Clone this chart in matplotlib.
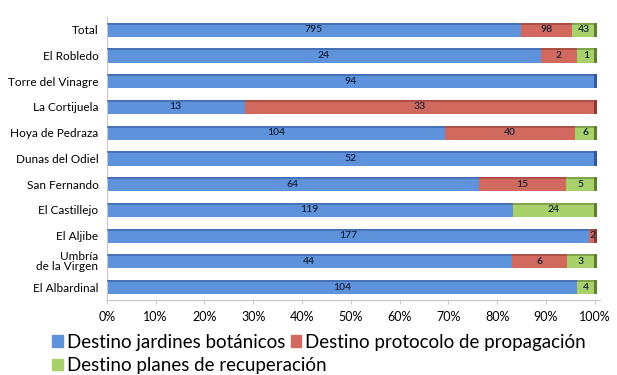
import matplotlib.pyplot as plt
import numpy as np

plt.rcParams['font.family'] = ['Lato', 'DejaVu Sans']

# categories top to bottom
sites = ['Total', 'El Robledo', 'Torre del Vinagre', 'La Cortijuela', 'Hoya de Pedraza',
         'Dunas del Odiel', 'San Fernando', 'El Castillejo', 'El Aljibe',
         'Umbría\nde la Virgen', 'El Albardinal']
jardines = [795, 24, 94, 13, 104, 52, 64, 119, 177, 44, 104]
protocolo = [98, 2, 0, 33, 40, 0, 15, 0, 2, 6, 0]
planes = [43, 1, 0, 0, 6, 0, 5, 24, 0, 3, 4]
series_names = ['Destino jardines botánicos', 'Destino protocolo de propagación',
                'Destino planes de recuperación']
xticks = np.arange(0, 101, 10)

colors = ['#5e92db', '#d2695f', '#a8d16c']
dark = ['#34599a', '#8e3a34', '#5f7f30']

data = np.array([jardines, protocolo, planes], dtype=float)
pct = data / data.sum(axis=0) * 100

fig = plt.figure(figsize=(6.17, 3.75), dpi=100)
ax = fig.add_axes([0.173, 0.2, 0.799, 0.755])

y = np.arange(len(sites))
left = np.zeros(len(sites))
h = 0.55
for i in range(3):
    ax.barh(y, pct[i], left=left, height=h, color=colors[i], edgecolor='none', zorder=2)
    # darker top face
    ax.barh(y - h / 2 + 0.04, pct[i], left=left, height=0.08, color=dark[i],
            alpha=0.55, edgecolor='none', zorder=3)
    for j in range(len(sites)):
        if data[i, j] > 0:
            xc = left[j] + pct[i, j] / 2
            if pct[i, j] < 2:
                xc = 99.6
            ax.text(xc, y[j], '%d' % data[i, j], ha='center', va='center',
                    fontsize=7.5, color='#16223a', fontweight='semibold', zorder=5)
    left += pct[i]

# end caps (3d side)
for j in range(len(sites)):
    last = max(i for i in range(3) if data[i, j] > 0)
    ax.barh(y[j], 0.6, left=99.9, height=h, color=dark[last], edgecolor='none', zorder=4)

ax.set_ylim(len(sites) - 0.5, -0.5)
ax.set_xlim(0, 101)
ax.set_yticks(y)
ax.set_yticklabels(sites, fontsize=8.5, linespacing=0.85)
ax.set_xticks(xticks)
ax.set_xticklabels(['%d%%' % v for v in xticks], fontsize=9)
for s in ['top', 'right']:
    ax.spines[s].set_visible(False)
for s in ['left', 'bottom']:
    ax.spines[s].set_color('#c8c8c8')
ax.tick_params(axis='y', length=0, pad=6)
ax.tick_params(axis='x', length=3, color='#c8c8c8', pad=5)

handles = [plt.Rectangle((0, 0), 1, 1, color=c) for c in colors]
leg1 = fig.legend(handles[:2], series_names[:2], ncol=2, loc='upper left',
                  bbox_to_anchor=(0.085, 0.11), frameon=False, fontsize=13.5,
                  handlelength=0.55, handleheight=0.55, handletextpad=0.2,
                  columnspacing=0.3, borderpad=0, borderaxespad=0)
leg2 = fig.legend(handles[2:], series_names[2:], loc='upper left',
                  bbox_to_anchor=(0.085, 0.048), frameon=False, fontsize=13.5,
                  handlelength=0.55, handleheight=0.55, handletextpad=0.2,
                  borderpad=0, borderaxespad=0)

fig.savefig('out.png', dpi=100)
